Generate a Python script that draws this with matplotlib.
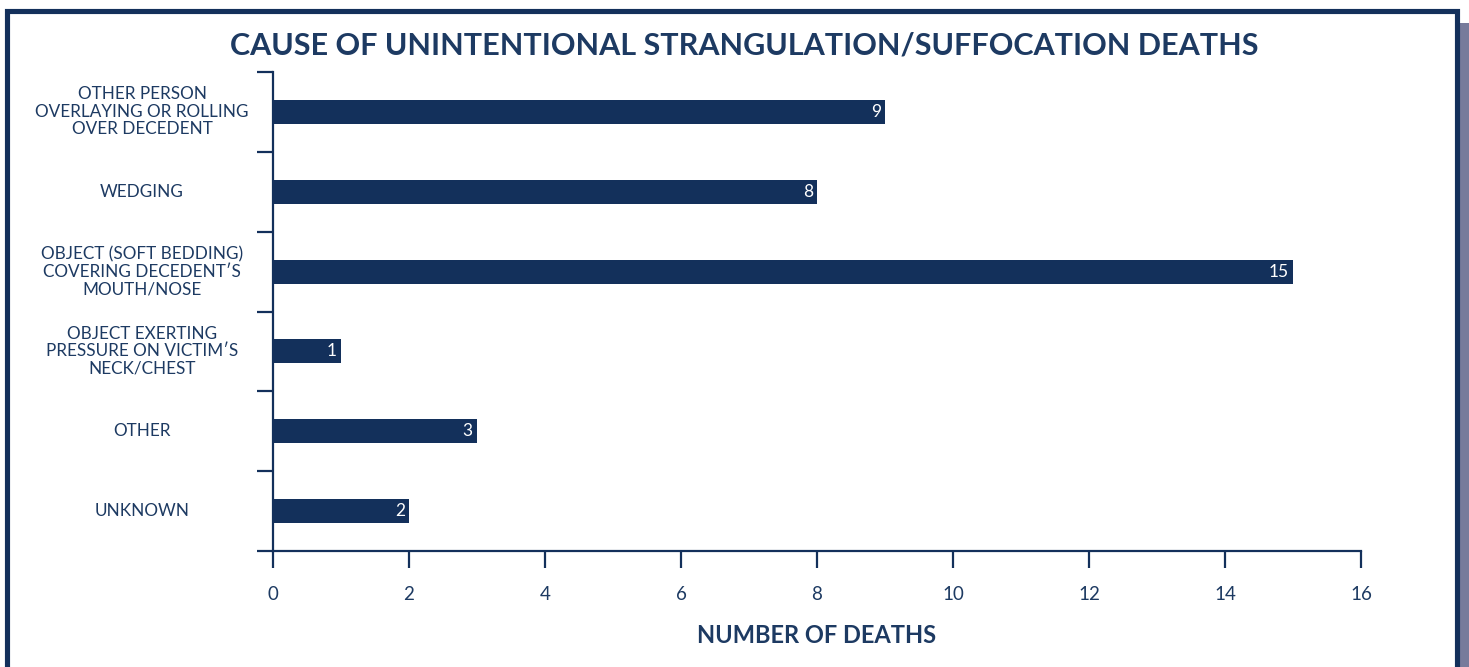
import matplotlib
matplotlib.use("Agg")
import matplotlib.pyplot as plt
from matplotlib.patches import Rectangle
from matplotlib.transforms import blended_transform_factory

plt.rcParams['font.family'] = ['Lato', 'DejaVu Sans']

categories = [
    "OTHER PERSON\nOVERLAYING OR ROLLING\nOVER DECEDENT",
    "WEDGING",
    "OBJECT (SOFT BEDDING)\nCOVERING DECEDENT\u2032S\nMOUTH/NOSE",
    "OBJECT EXERTING\nPRESSURE ON VICTIM\u2032S\nNECK/CHEST",
    "OTHER",
    "UNKNOWN",
]
deaths = [9, 8, 15, 1, 3, 2]
x_ticks = [0, 2, 4, 6, 8, 10, 12, 14, 16]

NAVY = "#13305b"
TEXT = "#1d3a62"
SHADOW = "#777b9b"

W, H = 1469, 667
fig = plt.figure(figsize=(W / 100, H / 100), dpi=100)
fig.patch.set_facecolor("white")

# frame and drop shadow
fig.patches.append(Rectangle((1460 / W, 0), 9 / W, (H - 23) / H,
                             transform=fig.transFigure, facecolor=SHADOW,
                             edgecolor="none", zorder=0))
fig.patches.append(Rectangle((6.5 / W, -0.2), 1450 / W, 1.2 - 10.5 / H,
                             transform=fig.transFigure, facecolor="none",
                             edgecolor=NAVY, linewidth=3.7, zorder=1))

left, right = 273 / W, 1361 / W
top, bottom = 1 - 72 / H, 1 - 551 / H
ax = fig.add_axes([left, bottom, right - left, top - bottom])

n = len(categories)
pos = list(range(n))[::-1]
ax.barh(pos, deaths, height=0.3, color=NAVY, zorder=3)
for p, v in zip(pos, deaths):
    ax.text(v - 0.06, p, str(v), color="white", ha="right", va="center",
            fontsize=12.5, zorder=4)

ax.set_xlim(0, 16)
ax.set_ylim(-0.5, n - 0.5)
ax.set_xticks(x_ticks)
ax.set_xticklabels([str(t) for t in x_ticks], fontsize=13.5, color=TEXT)
ax.tick_params(axis="x", direction="out", length=12.5, width=1.6,
               color=NAVY, pad=13)

ax.set_yticks([i - 0.5 for i in range(n + 1)])
ax.set_yticklabels([])
ax.tick_params(axis="y", direction="out", length=11.5, width=1.6, color=NAVY)

trans = blended_transform_factory(fig.transFigure, ax.transData)
for p, label in zip(pos, categories):
    ax.text(142 / W, p, label, transform=trans, ha="center", va="center",
            multialignment="center", fontsize=12.3, color=TEXT,
            linespacing=1.12)

for s in ("top", "right"):
    ax.spines[s].set_visible(False)
for s in ("left", "bottom"):
    ax.spines[s].set_color(NAVY)
    ax.spines[s].set_linewidth(1.6)

ax.set_xlabel("NUMBER OF DEATHS", fontsize=17, fontweight="bold",
              color=TEXT, labelpad=15)

fig.text(744 / W, 1 - 45 / H, "CAUSE OF UNINTENTIONAL STRANGULATION/SUFFOCATION DEATHS",
         ha="center", va="center", fontsize=22, fontweight="bold", color=TEXT)

fig.savefig("out.png", dpi=100)
